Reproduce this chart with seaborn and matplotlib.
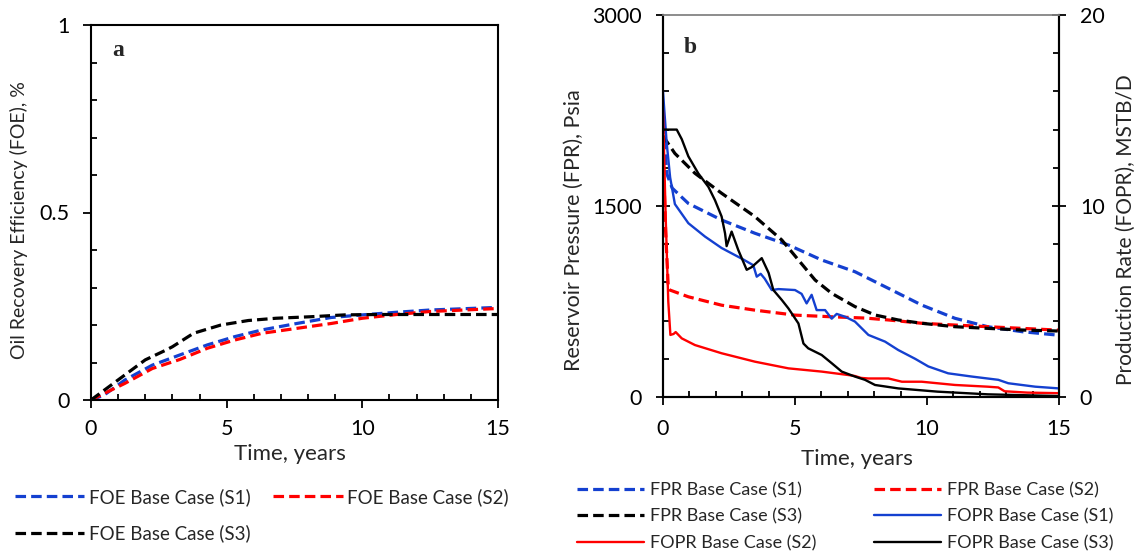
import matplotlib
matplotlib.use("Agg")
import matplotlib.pyplot as plt
import seaborn as sns
from matplotlib.lines import Line2D
from matplotlib.ticker import MultipleLocator, FuncFormatter

# ---------------- data ----------------
# Panel a: oil recovery efficiency
foe_s1_t = [0, 0.48, 1.24, 2.26, 3.27, 4.29, 5.3, 6.31, 7.58, 8.85, 10, 11.26, 12.5, 15]
foe_s1 = [0, 0.013, 0.053, 0.093, 0.12, 0.147, 0.169, 0.187, 0.204, 0.22, 0.227, 0.234, 0.24, 0.247]
foe_s2_t = [0, 0.5, 1.24, 2.26, 3.27, 4.29, 5.3, 6.31, 7.58, 8.85, 10, 11.26, 12.5, 15]
foe_s2 = [0, 0.018, 0.044, 0.084, 0.108, 0.138, 0.16, 0.178, 0.191, 0.204, 0.218, 0.228, 0.236, 0.244]
foe_s3_t = [0, 0.99, 2.0, 2.76, 3.0, 3.78, 4.79, 5.8, 6.82, 8.09, 9.36, 10.6, 15]
foe_s3 = [0, 0.053, 0.107, 0.133, 0.142, 0.178, 0.2, 0.212, 0.218, 0.222, 0.227, 0.228, 0.228]

# Panel b: reservoir pressure (psia)
fpr_s1_t = [0, 0.15, 0.35, 0.96, 2.22, 3.48, 4.75, 6.01, 7.27, 8.54, 9.8, 11.06, 12.3, 13.6, 15]
fpr_s1 = [2150, 1750, 1640, 1520, 1390, 1286, 1194, 1076, 984, 853, 722, 618, 552, 513, 485]
fpr_s2_t = [0, 0.1, 0.2, 0.26, 0.96, 2.22, 3.48, 5.0, 6.39, 7.65, 8.54, 9.8, 11.06, 12.3, 13.6, 15]
fpr_s2 = [1950, 1300, 860, 840, 787, 721, 682, 643, 630, 620, 605, 579, 565, 552, 539, 525]
fpr_s3_t = [0, 0.45, 1.21, 2.22, 3.48, 4.5, 5.13, 5.76, 6.39, 7.27, 8.03, 8.91, 9.8, 11.06, 12.3, 13.6, 15]
fpr_s3 = [2050, 1913, 1757, 1600, 1417, 1233, 1076, 919, 814, 710, 644, 605, 579, 552, 539, 526, 518]

# Panel b: production rate (MSTB/D)
fopr_s1_t = [0, 0.05, 0.14, 0.27, 0.45, 0.96, 1.59, 2.22, 3.04, 3.42, 3.55, 3.7, 3.85, 4.12, 4.37,
             5.0, 5.25, 5.44, 5.63, 5.82, 6.14, 6.39, 6.58, 6.9, 7.27, 7.78, 8.41, 8.91, 9.55,
             10.05, 10.8, 11.7, 12.7, 13.08, 14.1, 15]
fopr_s1 = [16.0, 15.0, 13.3, 11.5, 10.1, 9.1, 8.4, 7.8, 7.2, 6.9, 6.3, 6.45, 6.2, 5.6, 5.65,
           5.6, 5.4, 4.9, 5.35, 4.55, 4.55, 4.1, 4.35, 4.2, 3.95, 3.25, 2.9, 2.46, 2.0,
           1.6, 1.24, 1.07, 0.9, 0.72, 0.54, 0.45]
fopr_s2_t = [0, 0.1, 0.2, 0.28, 0.4, 0.48, 0.71, 1.21, 2.22, 3.48, 4.75, 6.01, 7.02, 7.27, 7.5,
             7.78, 8.54, 9.05, 9.8, 11.06, 12.3, 12.7, 12.94, 13.8, 15]
fopr_s2 = [15.0, 9.5, 5.0, 3.25, 3.3, 3.4, 3.07, 2.72, 2.29, 1.85, 1.5, 1.33, 1.15, 1.1, 1.0,
           0.97, 0.97, 0.8, 0.8, 0.63, 0.54, 0.5, 0.3, 0.23, 0.2]
fopr_s3_t = [0, 0.52, 0.71, 0.96, 1.34, 1.72, 1.97, 2.22, 2.35, 2.41, 2.6, 2.85, 3.17, 3.36, 3.74,
             4.0, 4.18, 4.5, 4.75, 5.13, 5.32, 5.5, 6.01, 6.39, 6.77, 7.27, 7.65, 8.03, 8.91,
             10.4, 12.3, 15]
fopr_s3 = [14.0, 14.0, 13.5, 12.6, 11.7, 11.0, 10.3, 9.45, 8.57, 7.9, 8.66, 7.7, 6.66, 6.8, 7.27,
           6.5, 5.6, 5.08, 4.64, 3.85, 2.8, 2.55, 2.2, 1.77, 1.33, 1.07, 0.9, 0.63, 0.45,
           0.28, 0.14, 0.05]

labels_a = ["FOE Base Case (S1)", "FOE Base Case (S2)", "FOE Base Case (S3)"]
labels_b = ["FPR Base Case (S1)", "FPR Base Case (S2)", "FPR Base Case (S3)",
            "FOPR Base Case (S1)", "FOPR Base Case (S2)", "FOPR Base Case (S3)"]

# ---------------- style ----------------
sns.set_style("ticks")
plt.rcParams['font.family'] = ['Lato', 'DejaVu Sans']
plt.rcParams['lines.scale_dashes'] = True

BLUE = "#1440d0"
RED = "#ff0000"
BLACK = "#000000"
DASH = (0, (3.3, 1.6))
LW_D = 2.3
LW_S = 1.7
TICK_FS = 15.5
LEG_FS = 13.5

fig = plt.figure(figsize=(11.36, 5.53), dpi=100)
axa = fig.add_axes([91/1136, 1-400/553, (498-91)/1136, (400-25)/553])
axb = fig.add_axes([663/1136, 1-397/553, (1059-663)/1136, (397-15)/553])
axr = axb.twinx()


def style_ticks(ax, which_axes, major_dir, length=5.5):
    ax.tick_params(axis=which_axes, which='major', direction=major_dir, length=length, width=1.3,
                   colors='black', labelsize=TICK_FS, pad=10)
    ax.tick_params(axis=which_axes, which='minor', direction='in', length=4, width=1.3,
                   colors='black')


# ---------------- panel a ----------------
for t, v, c in [(foe_s1_t, foe_s1, BLUE), (foe_s2_t, foe_s2, RED), (foe_s3_t, foe_s3, BLACK)]:
    sns.lineplot(x=t, y=v, ax=axa, color=c, linewidth=LW_D, linestyle=DASH,
                 estimator=None, sort=False)
axa.set_xlim(0, 15)
axa.set_ylim(0, 1)
axa.xaxis.set_major_locator(MultipleLocator(5))
axa.xaxis.set_minor_locator(MultipleLocator(1))
axa.yaxis.set_major_locator(MultipleLocator(0.5))
axa.yaxis.set_minor_locator(MultipleLocator(0.1))
axa.yaxis.set_major_formatter(FuncFormatter(lambda v, p: f"{v:g}"))
style_ticks(axa, 'both', 'out')
axa.tick_params(axis='x', which='major', pad=8)
for s in axa.spines.values():
    s.set_linewidth(1.5)
    s.set_color('black')
axa.set_xlabel("Time, years", fontsize=16)
axa.set_ylabel("Oil Recovery Efficiency (FOE), %", fontsize=14)
axa.xaxis.set_label_coords(0.489, -0.118)
axa.yaxis.set_label_coords(-0.155, 0.48)
axa.text(0.066, 0.933, "a", transform=axa.transAxes, fontsize=17, fontweight='bold',
         family='Liberation Serif', ha='center', va='center')

# ---------------- panel b ----------------
for t, v, c in [(fpr_s1_t, fpr_s1, BLUE), (fpr_s2_t, fpr_s2, RED), (fpr_s3_t, fpr_s3, BLACK)]:
    sns.lineplot(x=t, y=v, ax=axb, color=c, linewidth=LW_D, linestyle=DASH,
                 estimator=None, sort=False)
for t, v, c in [(fopr_s1_t, fopr_s1, BLUE), (fopr_s2_t, fopr_s2, RED), (fopr_s3_t, fopr_s3, BLACK)]:
    sns.lineplot(x=t, y=v, ax=axr, color=c, linewidth=LW_S, estimator=None, sort=False)

axb.set_xlim(0, 15)
axb.set_ylim(0, 3000)
axr.set_ylim(0, 20)
axb.xaxis.set_major_locator(MultipleLocator(5))
axb.xaxis.set_minor_locator(MultipleLocator(1))
axb.yaxis.set_major_locator(MultipleLocator(1500))
axb.yaxis.set_minor_locator(MultipleLocator(300))
axr.yaxis.set_major_locator(MultipleLocator(10))
axr.yaxis.set_minor_locator(MultipleLocator(2))
style_ticks(axb, 'x', 'out')
style_ticks(axb, 'y', 'inout', length=10)
style_ticks(axr, 'y', 'inout', length=10)
for ax in (axb, axr):
    for name, s in ax.spines.items():
        s.set_linewidth(1.5)
        s.set_color('black')
    ax.spines['top'].set_color('#8c8c8c')
    ax.spines['top'].set_linewidth(1.2)
axb.set_xlabel("Time, years", fontsize=16)
axb.set_ylabel("Reservoir Pressure (FPR), Psia", fontsize=15.5)
axr.set_ylabel("Production Rate (FOPR), MSTB/D", fontsize=15)
axb.xaxis.set_label_coords(0.49, -0.135)
axb.yaxis.set_label_coords(-0.2, 0.437)
axr.yaxis.set_label_coords(1.144, 0.437)
axb.text(0.068, 0.914, "b", transform=axb.transAxes, fontsize=17, fontweight='bold',
         family='Liberation Serif', ha='center', va='center')

# ---------------- legends ----------------
ha = [Line2D([], [], color=BLUE, lw=LW_D, linestyle=DASH),
      Line2D([], [], color=RED, lw=LW_D, linestyle=DASH),
      Line2D([], [], color=BLACK, lw=LW_D, linestyle=DASH)]
order_a = [0, 2, 1]
fig.legend([ha[i] for i in order_a], [labels_a[i] for i in order_a], ncol=2,
           loc='upper left', bbox_to_anchor=(15/1136, 1-488/553), frameon=False,
           fontsize=LEG_FS, handlelength=3.7, handletextpad=0.25, columnspacing=1.2,
           labelspacing=1.0, borderpad=0, borderaxespad=0)

hb = [Line2D([], [], color=BLUE, lw=LW_D, linestyle=DASH),
      Line2D([], [], color=RED, lw=LW_D, linestyle=DASH),
      Line2D([], [], color=BLACK, lw=LW_D, linestyle=DASH),
      Line2D([], [], color=BLUE, lw=LW_S),
      Line2D([], [], color=RED, lw=LW_S),
      Line2D([], [], color=BLACK, lw=LW_S)]
order_b = [0, 2, 4, 1, 3, 5]
fig.legend([hb[i] for i in order_b], [labels_b[i] for i in order_b], ncol=2,
           loc='upper left', bbox_to_anchor=(577/1136, 1-482/553), frameon=False,
           fontsize=13, handlelength=3.7, handletextpad=0.35, columnspacing=3.2,
           labelspacing=0.58, borderpad=0, borderaxespad=0)

fig.savefig("out.png", dpi=100)
